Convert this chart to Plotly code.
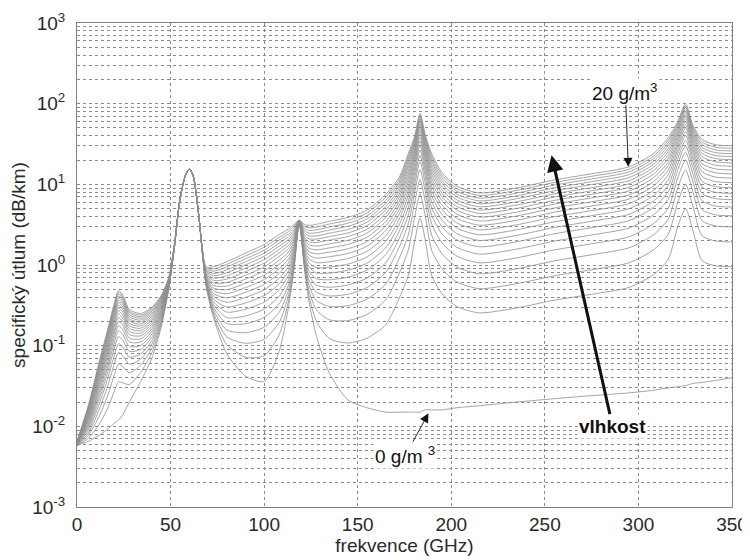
import plotly.graph_objects as go

freq_ghz = [0, 6, 12, 17, 20, 22.2, 24.5, 28, 34, 40, 45, 49, 52, 55, 58, 60, 62, 65, 67, 69,
            73, 80, 90, 100, 108, 113, 116, 118.75, 121.5, 124, 128, 135, 145, 155, 165, 172,
            177, 180.5, 183.3, 186, 189.5, 195, 203, 215, 235, 255, 275, 295, 308, 316, 321,
            325.2, 329, 334, 341, 350]

# water vapour density of each curve (g/m^3)
humidity_g_m3 = [0, 1, 2, 3, 4, 5, 6, 7, 8, 9, 10, 11, 12, 13, 14, 15, 16, 17, 18, 19, 20]

# specific attenuation (dB/km) at each frequency, one value per humidity 0..20 g/m^3
c000 = [0.0058, 0.0058, 0.0058, 0.0059, 0.0059, 0.0059, 0.006, 0.006, 0.006, 0.0061, 0.0061, 0.0061, 0.0062, 0.0062, 0.0062, 0.0063, 0.0063, 0.0064, 0.0064, 0.0065, 0.0065]
c006 = [0.0065, 0.0071, 0.0077, 0.0082, 0.0088, 0.0094, 0.0100, 0.0105, 0.0111, 0.0117, 0.0123, 0.0128, 0.0134, 0.0140, 0.0146, 0.0151, 0.0157, 0.0163, 0.0169, 0.0174, 0.018]
c012 = [0.0078, 0.0107, 0.0135, 0.0164, 0.0192, 0.0221, 0.0249, 0.0278, 0.0306, 0.0335, 0.0363, 0.0392, 0.042, 0.0449, 0.0477, 0.0506, 0.0534, 0.0563, 0.0591, 0.062, 0.0648]
c017 = [0.0095, 0.018, 0.0265, 0.035, 0.0435, 0.052, 0.0605, 0.069, 0.0775, 0.086, 0.0945, 0.103, 0.1115, 0.12, 0.1285, 0.137, 0.1455, 0.154, 0.1625, 0.171, 0.1795]
c020 = [0.011, 0.0275, 0.044, 0.0605, 0.077, 0.0935, 0.11, 0.1265, 0.143, 0.1595, 0.176, 0.1925, 0.209, 0.2255, 0.242, 0.2585, 0.275, 0.2915, 0.308, 0.3245, 0.341]
c022 = [0.012, 0.0355, 0.059, 0.0825, 0.106, 0.1295, 0.153, 0.1765, 0.2, 0.2235, 0.247, 0.2705, 0.294, 0.3175, 0.341, 0.3645, 0.388, 0.4115, 0.435, 0.4585, 0.482]
c024 = [0.014, 0.0345, 0.055, 0.0755, 0.096, 0.1165, 0.137, 0.1575, 0.178, 0.1985, 0.219, 0.2395, 0.26, 0.2805, 0.301, 0.3215, 0.342, 0.3625, 0.383, 0.4035, 0.424]
c028 = [0.02, 0.033, 0.046, 0.059, 0.072, 0.085, 0.098, 0.111, 0.124, 0.137, 0.15, 0.163, 0.176, 0.189, 0.202, 0.215, 0.228, 0.241, 0.254, 0.267, 0.28]
c034 = [0.036, 0.0467, 0.0574, 0.0681, 0.0788, 0.0895, 0.1002, 0.1109, 0.1216, 0.1323, 0.143, 0.1537, 0.1644, 0.1751, 0.1858, 0.1965, 0.2072, 0.2179, 0.2286, 0.2393, 0.25]
c040 = [0.07, 0.0815, 0.093, 0.1045, 0.116, 0.1275, 0.139, 0.1505, 0.162, 0.1735, 0.185, 0.1965, 0.208, 0.2195, 0.231, 0.2425, 0.254, 0.2655, 0.277, 0.2885, 0.3]
c045 = [0.17, 0.1825, 0.195, 0.2075, 0.22, 0.2325, 0.245, 0.2575, 0.27, 0.2825, 0.295, 0.3075, 0.32, 0.3325, 0.345, 0.3575, 0.37, 0.3825, 0.395, 0.4075, 0.42]
c049 = [0.5, 0.51, 0.52, 0.53, 0.54, 0.55, 0.56, 0.57, 0.58, 0.59, 0.6, 0.61, 0.62, 0.63, 0.64, 0.65, 0.66, 0.67, 0.68, 0.69, 0.7]
c052 = [1.6, 1.61, 1.62, 1.62, 1.63, 1.64, 1.65, 1.65, 1.66, 1.67, 1.68, 1.68, 1.69, 1.70, 1.71, 1.71, 1.72, 1.73, 1.74, 1.74, 1.75]
c055 = [6.5, 6.5, 6.51, 6.52, 6.52, 6.53, 6.53, 6.54, 6.54, 6.55, 6.55, 6.56, 6.56, 6.57, 6.57, 6.58, 6.58, 6.59, 6.59, 6.6, 6.6]
c058 = [13.0, 13.0, 13.0, 13.0, 13.0, 13.0, 13.0, 13.0, 13.0, 13.0, 13.0, 13.0, 13.0, 13.0, 13.0, 13.0, 13.0, 13.0, 13.0, 13.0, 13.0]
c060 = [15.5, 15.5, 15.5, 15.5, 15.5, 15.5, 15.5, 15.5, 15.5, 15.5, 15.5, 15.5, 15.5, 15.5, 15.5, 15.5, 15.5, 15.5, 15.5, 15.5, 15.5]
c062 = [13.0, 13.0, 13.0, 13.0, 13.0, 13.0, 13.0, 13.0, 13.0, 13.0, 13.0, 13.0, 13.0, 13.0, 13.0, 13.0, 13.0, 13.0, 13.0, 13.0, 13.0]
c065 = [4.2, 4.2, 4.21, 4.22, 4.22, 4.23, 4.23, 4.24, 4.24, 4.25, 4.25, 4.26, 4.26, 4.27, 4.27, 4.28, 4.28, 4.29, 4.29, 4.3, 4.3]
c067 = [1.4, 1.41, 1.42, 1.42, 1.43, 1.44, 1.45, 1.45, 1.46, 1.47, 1.48, 1.48, 1.49, 1.50, 1.51, 1.51, 1.52, 1.53, 1.54, 1.54, 1.55]
c069 = [0.55, 0.559, 0.569, 0.58, 0.593, 0.606, 0.621, 0.637, 0.654, 0.672, 0.692, 0.712, 0.734, 0.757, 0.781, 0.806, 0.833, 0.86, 0.889, 0.919, 0.95]
c073 = [0.22, 0.236, 0.255, 0.275, 0.298, 0.323, 0.35, 0.379, 0.41, 0.443, 0.479, 0.516, 0.556, 0.598, 0.642, 0.688, 0.736, 0.786, 0.839, 0.893, 0.95]
c080 = [0.08, 0.103, 0.129, 0.157, 0.189, 0.223, 0.261, 0.302, 0.345, 0.392, 0.441, 0.494, 0.549, 0.608, 0.669, 0.734, 0.801, 0.871, 0.945, 1.021, 1.1]
c090 = [0.042, 0.072, 0.107, 0.145, 0.187, 0.233, 0.283, 0.338, 0.396, 0.458, 0.524, 0.594, 0.668, 0.746, 0.828, 0.913, 1.003, 1.097, 1.195, 1.296, 1.402]
c100 = [0.036, 0.075, 0.12, 0.169, 0.224, 0.284, 0.348, 0.418, 0.493, 0.574, 0.659, 0.75, 0.846, 0.947, 1.053, 1.164, 1.28, 1.401, 1.528, 1.659, 1.796]
c108 = [0.085, 0.136, 0.194, 0.259, 0.33, 0.408, 0.493, 0.585, 0.683, 0.788, 0.9, 1.018, 1.143, 1.275, 1.414, 1.559, 1.71, 1.869, 2.034, 2.206, 2.385]
c113 = [0.3, 0.356, 0.419, 0.489, 0.567, 0.652, 0.744, 0.843, 0.95, 1.064, 1.186, 1.314, 1.45, 1.594, 1.744, 1.902, 2.067, 2.239, 2.419, 2.606, 2.8]
c116 = [0.9, 0.951, 1.009, 1.074, 1.145, 1.223, 1.308, 1.4, 1.498, 1.603, 1.715, 1.833, 1.958, 2.09, 2.229, 2.374, 2.525, 2.684, 2.849, 3.021, 3.2]
c119 = [3.3, 3.315, 3.33, 3.345, 3.36, 3.375, 3.39, 3.405, 3.42, 3.435, 3.45, 3.465, 3.48, 3.495, 3.51, 3.525, 3.54, 3.555, 3.57, 3.585, 3.6]
c121 = [0.9, 0.951, 1.009, 1.074, 1.145, 1.223, 1.308, 1.4, 1.498, 1.603, 1.715, 1.833, 1.958, 2.09, 2.229, 2.374, 2.525, 2.684, 2.849, 3.021, 3.2]
c124 = [0.35, 0.411, 0.481, 0.558, 0.643, 0.737, 0.838, 0.948, 1.065, 1.19, 1.324, 1.466, 1.615, 1.773, 1.938, 2.112, 2.293, 2.483, 2.681, 2.886, 3.1]
c128 = [0.13, 0.199, 0.276, 0.362, 0.458, 0.562, 0.675, 0.797, 0.928, 1.068, 1.217, 1.376, 1.543, 1.718, 1.903, 2.097, 2.299, 2.511, 2.732, 2.961, 3.2]
c135 = [0.045, 0.122, 0.209, 0.306, 0.413, 0.53, 0.657, 0.795, 0.942, 1.099, 1.267, 1.445, 1.632, 1.83, 2.038, 2.255, 2.483, 2.72, 2.969, 3.227, 3.495]
c145 = [0.021, 0.108, 0.205, 0.314, 0.435, 0.567, 0.71, 0.864, 1.029, 1.207, 1.395, 1.595, 1.806, 2.029, 2.262, 2.507, 2.763, 3.03, 3.309, 3.599, 3.901]
c155 = [0.017, 0.124, 0.244, 0.378, 0.527, 0.689, 0.866, 1.056, 1.259, 1.478, 1.71, 1.956, 2.216, 2.49, 2.778, 3.08, 3.395, 3.724, 4.068, 4.425, 4.797]
c165 = [0.015, 0.182, 0.371, 0.581, 0.814, 1.067, 1.344, 1.642, 1.96, 2.302, 2.666, 3.052, 3.459, 3.888, 4.338, 4.811, 5.304, 5.82, 6.359, 6.918, 7.5]
c172 = [0.015, 0.38, 0.771, 1.185, 1.624, 2.089, 2.577, 3.091, 3.629, 4.192, 4.779, 5.392, 6.028, 6.693, 7.376, 8.089, 8.825, 9.586, 10.37, 11.18, 12.02]
c177 = [0.015, 0.745, 1.527, 2.355, 3.233, 4.162, 5.139, 6.166, 7.244, 8.369, 9.543, 10.77, 12.04, 13.37, 14.74, 16.16, 17.64, 19.16, 20.73, 22.35, 24.02]
c180 = [0.015, 2.0, 4.0, 6.0, 8.0, 10.0, 12.0, 14.0, 16.0, 18.0, 20.0, 22.0, 24.0, 26.0, 28.0, 30.0, 32.0, 34.0, 36.0, 38.0, 40.0]
c183 = [0.015, 3.8, 7.6, 11.4, 15.2, 19.0, 22.8, 26.6, 30.4, 34.2, 38.0, 41.8, 45.6, 49.4, 53.2, 57.0, 60.8, 64.6, 68.4, 72.2, 76.0]
c186 = [0.016, 2.1, 4.2, 6.3, 8.4, 10.5, 12.6, 14.7, 16.8, 18.9, 21.0, 23.1, 25.2, 27.3, 29.4, 31.5, 33.6, 35.7, 37.8, 39.9, 42.0]
c189 = [0.016, 0.746, 1.528, 2.356, 3.234, 4.163, 5.14, 6.167, 7.245, 8.37, 9.544, 10.77, 12.04, 13.37, 14.74, 16.16, 17.64, 19.16, 20.73, 22.35, 24.02]
c195 = [0.016, 0.442, 0.898, 1.381, 1.893, 2.435, 3.005, 3.604, 4.233, 4.889, 5.574, 6.289, 7.031, 7.807, 8.604, 9.435, 10.3, 11.18, 12.1, 13.04, 14.02]
c203 = [0.017, 0.306, 0.616, 0.943, 1.291, 1.659, 2.045, 2.452, 2.878, 3.324, 3.789, 4.274, 4.778, 5.304, 5.844, 6.409, 6.992, 7.594, 8.216, 8.858, 9.517]
c215 = [0.018, 0.255, 0.509, 0.779, 1.064, 1.366, 1.683, 2.017, 2.367, 2.733, 3.115, 3.513, 3.927, 4.359, 4.803, 5.266, 5.745, 6.239, 6.749, 7.277, 7.818]
c235 = [0.02, 0.294, 0.587, 0.898, 1.227, 1.575, 1.942, 2.327, 2.731, 3.153, 3.593, 4.053, 4.53, 5.029, 5.541, 6.075, 6.628, 7.198, 7.787, 8.395, 9.02]
c255 = [0.022, 0.366, 0.734, 1.124, 1.537, 1.975, 2.435, 2.918, 3.426, 3.956, 4.508, 5.086, 5.684, 6.311, 6.953, 7.625, 8.319, 9.035, 9.774, 10.54, 11.32]
c275 = [0.024, 0.434, 0.875, 1.34, 1.834, 2.357, 2.906, 3.484, 4.09, 4.723, 5.384, 6.073, 6.789, 7.537, 8.305, 9.107, 9.936, 10.79, 11.67, 12.59, 13.52]
c295 = [0.026, 0.528, 1.066, 1.635, 2.239, 2.877, 3.549, 4.255, 4.996, 5.77, 6.577, 7.42, 8.294, 9.208, 10.15, 11.13, 12.14, 13.19, 14.27, 15.38, 16.53]
c308 = [0.028, 0.758, 1.54, 2.368, 3.246, 4.175, 5.152, 6.179, 7.257, 8.382, 9.556, 10.78, 12.05, 13.38, 14.75, 16.18, 17.65, 19.17, 20.74, 22.36, 24.03]
c316 = [0.03, 1.185, 2.424, 3.735, 5.126, 6.596, 8.143, 9.769, 11.48, 13.26, 15.12, 17.06, 19.07, 21.18, 23.34, 25.6, 27.93, 30.34, 32.82, 35.39, 38.03]
c321 = [0.031, 3.0, 6.0, 9.0, 12.0, 15.0, 18.0, 21.0, 24.0, 27.0, 30.0, 33.0, 36.0, 39.0, 42.0, 45.0, 48.0, 51.0, 54.0, 57.0, 60.0]
c325 = [0.032, 5.0, 10.0, 15.0, 20.0, 25.0, 30.0, 35.0, 40.0, 45.0, 50.0, 55.0, 60.0, 65.0, 70.0, 75.0, 80.0, 85.0, 90.0, 95.0, 100.0]
c329 = [0.034, 2.75, 5.5, 8.25, 11.0, 13.75, 16.5, 19.25, 22.0, 24.75, 27.5, 30.25, 33.0, 35.75, 38.5, 41.25, 44.0, 46.75, 49.5, 52.25, 55.0]
c334 = [0.035, 1.129, 2.303, 3.545, 4.863, 6.256, 7.721, 9.262, 10.88, 12.57, 14.33, 16.17, 18.07, 20.07, 22.12, 24.26, 26.47, 28.75, 31.1, 33.54, 36.04]
c341 = [0.037, 0.979, 1.99, 3.06, 4.194, 5.394, 6.656, 7.982, 9.374, 10.83, 12.34, 13.93, 15.57, 17.29, 19.05, 20.89, 22.8, 24.76, 26.79, 28.89, 31.04]
c350 = [0.04, 0.952, 1.93, 2.965, 4.063, 5.224, 6.445, 7.729, 9.076, 10.48, 11.95, 13.48, 15.07, 16.74, 18.44, 20.22, 22.07, 23.97, 25.93, 27.96, 30.04]

columns = [c000, c006, c012, c017, c020, c022, c024, c028, c034, c040, c045, c049, c052, c055,
           c058, c060, c062, c065, c067, c069, c073, c080, c090, c100, c108, c113, c116, c119,
           c121, c124, c128, c135, c145, c155, c165, c172, c177, c180, c183, c186, c189, c195,
           c203, c215, c235, c255, c275, c295, c308, c316, c321, c325, c329, c334, c341, c350]

x_tick_vals = [0, 50, 100, 150, 200, 250, 300, 350]
y_tick_vals = [1e-3, 1e-2, 1e-1, 1e0, 1e1, 1e2, 1e3]
y_tick_text = ["10<sup>-3</sup>", "10<sup>-2</sup>", "10<sup>-1</sup>", "10<sup>0</sup>",
               "10<sup>1</sup>", "10<sup>2</sup>", "10<sup>3</sup>"]

FONT = "Liberation Sans, Arial, Helvetica, sans-serif"
TEXT = "#2a2a2a"
GRID = "#8c8c8c"
FS = 19

fig = go.Figure()
for i, rho in enumerate(humidity_g_m3):
    yv = [col[i] for col in columns]
    fig.add_trace(go.Scatter(
        x=freq_ghz, y=yv, mode="lines", name=f"{rho} g/m³", showlegend=False,
        hoverinfo="skip",
        line=dict(color="#8e8e8e", width=0.8, shape="spline", smoothing=0.7)))

axis_common = dict(showline=True, linecolor="#808080", linewidth=1, mirror=True,
                   showgrid=True, gridcolor=GRID, gridwidth=0.8, griddash="dot",
                   ticks="", zeroline=False, automargin=False,
                   tickfont=dict(family=FONT, size=FS, color=TEXT))

fig.update_xaxes(range=[0, 350], tickvals=x_tick_vals, **axis_common, ticklabelstandoff=0,
                 title=dict(text="frekvence (GHz)", font=dict(family=FONT, size=FS, color=TEXT),
                            standoff=3))
fig.update_yaxes(type="log", range=[-3, 3], tickvals=y_tick_vals, ticktext=y_tick_text,
                 **axis_common, ticklabelstandoff=7,
                 minor=dict(dtick="D1", showgrid=True, gridcolor=GRID, gridwidth=0.8,
                            griddash="dot", ticks=""),
                 title=dict(text="specifický útlum (dB/km)",
                            font=dict(family=FONT, size=FS, color=TEXT), standoff=10))

ann_font = dict(family=FONT, size=FS, color="#111111")
annotations = [
    # "20 g/m3" label with its thin arrow pointing at the top curve
    dict(x=294.6, y=1.217, xref="x", yref="y", text="20 g/m<sup>3</sup>", showarrow=True,
         ax=-3, ay=-75, arrowhead=2, arrowsize=2, arrowwidth=0.9, arrowcolor="#111111",
         font=ann_font, bgcolor="white"),
    # "0 g/m3" label with its thin arrow pointing at the dry-air curve
    dict(x=187.8, y=-1.839, xref="x", yref="y", text="0 g/m <sup>3</sup>", showarrow=True,
         ax=-23, ay=42, arrowhead=2, arrowsize=2, arrowwidth=0.9, arrowcolor="#111111",
         font=ann_font, bgcolor="white"),
    # "vlhkost" with the thick arrow
    dict(x=253.6, y=1.362, xref="x", yref="y", text="<b>vlhkost</b>", showarrow=True,
         ax=61, ay=271, arrowhead=2, arrowsize=1.1, arrowwidth=3, arrowcolor="#111111",
         font=dict(family=FONT, size=FS, color="#111111"), bgcolor="white"),
]

# the page adds an 8 px body margin, so the figure is 8 px smaller than the window
fig.update_layout(width=742, height=552, margin=dict(l=69, r=18, t=15, b=53),
                  paper_bgcolor="white", plot_bgcolor="white",
                  font=dict(family=FONT, color=TEXT), annotations=annotations)

fig.write_html("out.html")
